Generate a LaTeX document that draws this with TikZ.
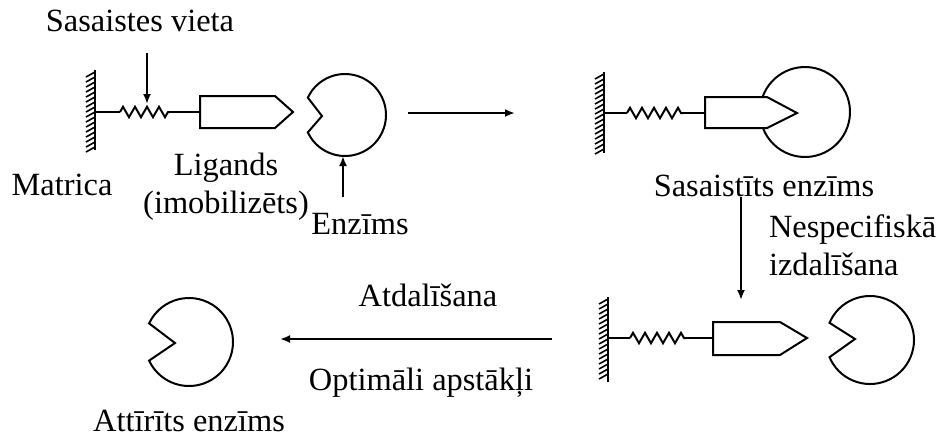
\documentclass[tikz,border=0pt]{standalone}
\usepackage{fontspec}
\setmainfont{Liberation Serif}
\usetikzlibrary{arrows.meta,calc,decorations.pathmorphing}

\begin{document}
\begin{tikzpicture}[x=0.5pt,y=0.5pt,line width=1pt,
	lbl/.style={font=\fontsize{16.2}{19}\selectfont,inner sep=0pt},
	arr/.style={-{Latex[length=5pt,width=4pt]}},
	spring/.style={decorate,decoration={zigzag,segment length=6pt,amplitude=2.6pt}},
	hatch/.style={line width=0.8pt}]
	\useasboundingbox (0,0) rectangle (937,-436);
	% matrix, spacer and ligand: free ligand column
	\draw (95,-70) -- (95,-150);
	\foreach \y in {72,77,...,147} \draw[hatch] (95,-\y) -- (86,-\y-5);
	\draw (95,-112) -- (120,-112);
	\draw[spring] (120,-112) -- (170,-112);
	\draw (170,-112) -- (200,-112);
	\draw (200,-96) -- (275,-96) -- (293,-112) -- (275,-128) -- (200,-128) -- cycle;
	% free enzyme
	\draw (322,-116) -- ($(345,-115)+(155:41)$) arc[start angle=155,end angle=-155,radius=41] -- cycle;
	% bound complex, the ligand tip sits in the pocket
	\draw (604,-72) -- (604,-153);
	\foreach \y in {74,79,...,149} \draw[hatch] (604,-\y) -- (595,-\y-5);
	\draw (604,-113) -- (627,-113);
	\draw[spring] (627,-113) -- (683,-113);
	\draw (683,-113) -- (705,-113);
	\draw (705,-97) -- (767,-97) -- (797,-113) -- (767,-128) -- (705,-128) -- cycle;
	\draw ($(805,-112)+(160.5:45)$) arc[start angle=160.5,end angle=-159.2,radius=45];
	% after washing
	\draw (608,-297) -- (608,-382);
	\foreach \y in {299,304,...,377} \draw[hatch] (608,-\y) -- (599,-\y-5);
	\draw (608,-338) -- (630,-338);
	\draw[spring] (630,-338) -- (687,-338);
	\draw (687,-338) -- (713,-338);
	\draw (713,-322) -- (780,-322) -- (807,-338) -- (780,-355) -- (713,-355) -- cycle;
	\draw (855,-339) -- ($(870,-340)+(157:44)$) arc[start angle=157,end angle=-157,radius=44] -- cycle;
	% eluted enzyme
	\draw (175,-343) -- ($(189,-342)+(155:44)$) arc[start angle=155,end angle=-155,radius=44] -- cycle;

	% labels
	\node[lbl] (site) at (140,-21) {Sasaistes vieta};
	\node[lbl] (matrix) at (62,-185) {Matrica};
	\node[lbl,align=center] (ligand) at (226,-187) {Ligands\\(imobilizēts)};
	\node[lbl] (enzyme) at (360,-224) {Enzīms};
	\node[lbl] (bound) at (764,-186) {Sasaistīts enzīms};
	\node[lbl,align=left,anchor=west] (wash) at (768,-245) {Nespecifiskā\\izdalīšana};
	\node[lbl] (elute) at (428,-295) {Atdalīšana};
	\node[lbl] (optimal) at (421,-383) {Optimāli apstākļi};
	\node[lbl] (pure) at (189,-421) {Attīrīts enzīms};

	% arrows
	\coordinate (site top) at (147,-53);
	\coordinate (site tip) at (147,-104);
	\coordinate (enz foot) at (343,-197);
	\coordinate (enz tip) at (343,-156);
	\coordinate (bind from) at (408,-113);
	\coordinate (bind to) at (515,-113);
	\coordinate (wash from) at (741,-197);
	\coordinate (wash to) at (741,-300);
	\coordinate (elute from) at (552,-339);
	\coordinate (elute to) at (280,-339);
	\draw[arr] (site top) -- (site tip);
	\draw[arr] (enz foot) -- (enz tip);
	\draw[arr] (bind from) -- (bind to);
	\draw[arr] (wash from) -- (wash to);
	\draw[arr] (elute from) -- (elute to);
\end{tikzpicture}
\end{document}
